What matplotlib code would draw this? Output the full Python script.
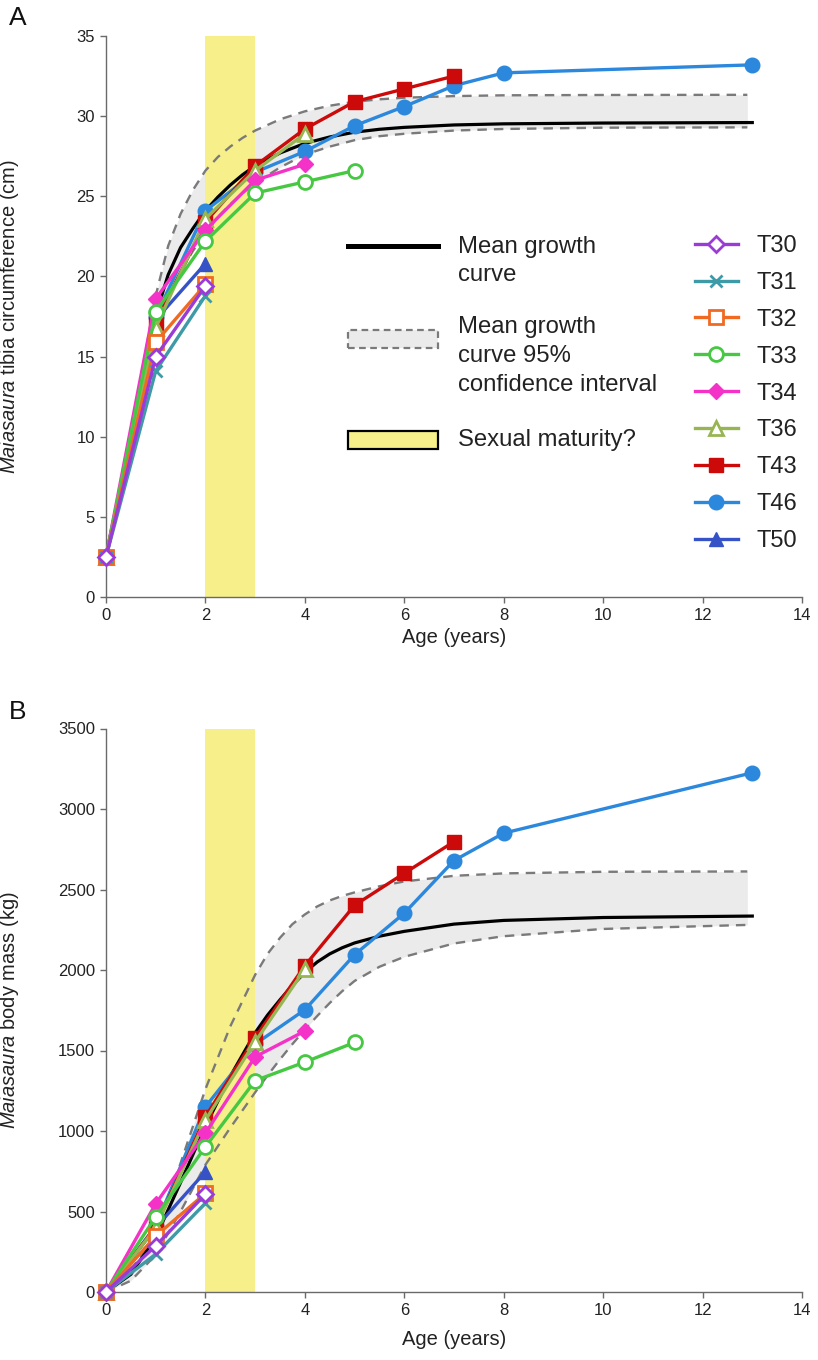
import matplotlib
matplotlib.use('Agg')
import matplotlib.pyplot as plt
from matplotlib.lines import Line2D
from matplotlib.patches import Rectangle

plt.rcParams['font.family'] = ['Liberation Sans', 'DejaVu Sans']
plt.rcParams['mathtext.fontset'] = 'custom'
plt.rcParams['mathtext.it'] = 'Liberation Sans:italic'
plt.rcParams['mathtext.rm'] = 'Liberation Sans'

# ---------------- data ----------------
names = ['T30', 'T31', 'T32', 'T33', 'T34', 'T36', 'T43', 'T46', 'T50']

ages = {
    'T30': [0, 1, 2],
    'T31': [0, 1, 2],
    'T32': [0, 1, 2],
    'T33': [0, 1, 2, 3, 4, 5],
    'T34': [0, 1, 2, 3, 4],
    'T36': [0, 1, 2, 3, 4],
    'T43': [0, 1, 2, 3, 4, 5, 6, 7],
    'T46': [0, 1, 2, 3, 4, 5, 6, 7, 8, 13],
    'T50': [0, 1, 2],
}

tibia = {
    'T30': [2.5, 15.0, 19.4],
    'T31': [2.5, 14.1, 18.8],
    'T32': [2.5, 15.9, 19.5],
    'T33': [2.5, 17.8, 22.2, 25.2, 25.9, 26.6],
    'T34': [2.5, 18.6, 22.9, 26.0, 27.0],
    'T36': [2.5, 16.8, 23.6, 26.6, 28.9],
    'T43': [2.5, 17.1, 23.4, 26.9, 29.2, 30.9, 31.7, 32.5],
    'T46': [2.5, 17.5, 24.1, 26.5, 27.8, 29.4, 30.6, 31.9, 32.7, 33.2],
    'T50': [2.5, 17.3, 20.8],
}

mass = {
    'T30': [0, 287, 607],
    'T31': [0, 235, 552],
    'T32': [0, 348, 612],
    'T33': [0, 467, 902, 1313, 1428, 1550],
    'T34': [0, 548, 987, 1461, 1621],
    'T36': [0, 400, 1068, 1554, 2005],
    'T43': [0, 405, 1088, 1580, 2027, 2402, 2601, 2797],
    'T46': [0, 410, 1150, 1540, 1753, 2095, 2353, 2680, 2850, 3225],
    'T50': [0, 400, 747],
}

# mean growth curve and its 95% confidence interval
mean_age_A = [0, 0.25, 0.5, 0.75, 1, 1.25, 1.5, 1.75, 2, 2.25, 2.5, 2.75, 3, 3.5, 4, 4.5, 5,
              5.5, 6, 7, 8, 10, 13]
mean_A = [2.5, 5.8, 9.8, 13.9, 17.6, 20.1, 21.8, 23.0, 24.1, 24.95, 25.7, 26.35, 26.9, 27.7,
          28.3, 28.7, 29.0, 29.18, 29.3, 29.45, 29.52, 29.57, 29.6]
ci_age_A = [0, 0.25, 0.5, 0.75, 1, 1.25, 1.5, 1.75, 2, 2.25, 2.5, 2.75, 3, 3.5, 4, 4.5, 5,
            5.5, 6, 7, 8, 10, 12.9]
upper_A = [2.5, 6.4, 10.4, 14.5, 18.8, 21.9, 23.9, 25.4, 26.6, 27.45, 28.1, 28.65, 29.1, 29.8,
           30.3, 30.65, 30.9, 31.05, 31.15, 31.25, 31.3, 31.32, 31.33]
lower_A = [2.5, 5.6, 9.0, 12.6, 15.9, 18.6, 20.3, 21.6, 22.7, 23.7, 24.5, 25.2, 25.8, 26.8,
           27.6, 28.1, 28.5, 28.75, 28.9, 29.1, 29.2, 29.28, 29.3]

mean_age_B = [0, 0.5, 1, 1.5, 2, 2.5, 3, 3.25, 3.5, 3.75, 4, 4.25, 4.5, 4.75, 5, 5.5, 6, 7, 8,
              10, 13]
mean_B = [0, 110, 340, 680, 1030, 1340, 1610, 1720, 1815, 1905, 1985, 2050, 2100, 2138, 2168,
          2210, 2240, 2285, 2308, 2326, 2335]
ci_age_B = [0, 0.5, 1, 1.5, 2, 2.5, 3, 3.25, 3.5, 3.75, 4, 4.25, 4.5, 4.75, 5, 5.5, 6, 7, 8,
            10, 12.9]
upper_B = [0, 130, 380, 800, 1260, 1650, 1970, 2100, 2200, 2285, 2345, 2395, 2432, 2460, 2482,
           2520, 2550, 2585, 2600, 2610, 2612]
lower_B = [0, 70, 230, 500, 790, 1020, 1240, 1345, 1445, 1540, 1630, 1715, 1795, 1868, 1932,
           2020, 2082, 2165, 2210, 2255, 2280]

maturity = (2, 3)

x_ticks = [0, 2, 4, 6, 8, 10, 12, 14]
yticks_A = [0, 5, 10, 15, 20, 25, 30, 35]
yticks_B = [0, 500, 1000, 1500, 2000, 2500, 3000, 3500]

# ---------------- styles ----------------
styles = {
    'T30': dict(color='#9b3bd6', marker='D', ms=8, mfc='white', mew=2.0),
    'T31': dict(color='#3e9aa6', marker='x', ms=9, mew=2.0),
    'T32': dict(color='#f06a22', marker='s', ms=9.5, mfc='white', mew=2.0),
    'T33': dict(color='#46c843', marker='o', ms=10, mfc='white', mew=2.0),
    'T34': dict(color='#f532c8', marker='D', ms=8, mew=1.0),
    'T36': dict(color='#97b653', marker='^', ms=10, mfc='white', mew=2.0),
    'T43': dict(color='#cc0a0a', marker='s', ms=10, mew=1.0),
    'T46': dict(color='#2c88dc', marker='o', ms=10.5, mew=1.0),
    'T50': dict(color='#3553c6', marker='^', ms=10.5, mew=1.0),
}

W, H = 818, 1360
fig = plt.figure(figsize=(W / 100, H / 100), dpi=100)


def ax_rect(l, t, r, b):
    return [l / W, 1 - b / H, (r - l) / W, (b - t) / H]


def fxy(x, y):
    return x / W, 1 - y / H


axA = fig.add_axes(ax_rect(106, 36, 802, 597))
axB = fig.add_axes(ax_rect(106, 728.5, 802, 1292))

YELLOW = '#f7f08a'
BAND = '#ebebeb'
DASH = '#7a7a7a'

panels = [
    (axA, tibia, mean_age_A, mean_A, ci_age_A, upper_A, lower_A, (0, 35), yticks_A,
     r'$\it{Maiasaura}$ tibia circumference (cm)', -0.055),
    (axB, mass, mean_age_B, mean_B, ci_age_B, upper_B, lower_B, (0, 3500), yticks_B,
     r'$\it{Maiasaura}$ body mass (kg)', -0.068),
]

series_lines = {}
for ax, vals, mage, mval, cage, up, lo, ylim, yt, ylab, xlab_y in panels:
    ax.fill_between(cage, lo, up, color=BAND, lw=0, zorder=1)
    ax.axvspan(maturity[0], maturity[1], color=YELLOW, lw=0, zorder=2)
    ax.plot(cage, up, color=DASH, lw=1.7, ls=(0, (4, 3)), zorder=3)
    ax.plot(cage, lo, color=DASH, lw=1.7, ls=(0, (4, 3)), zorder=3)
    ax.plot(mage, mval, color='black', lw=2.3, zorder=4)
    for i, n in enumerate(reversed(names)):
        st = styles[n]
        ln, = ax.plot(ages[n], vals[n], color=st['color'], lw=2.4, marker=st['marker'],
                      ms=st['ms'], mfc=st.get('mfc', st['color']), mec=st['color'],
                      mew=st['mew'], zorder=5 + i, clip_on=False, label=n)
        if ax is axA:
            series_lines[n] = ln
    ax.set_xlim(0, 14)
    ax.set_ylim(*ylim)
    ax.set_xticks(x_ticks)
    ax.set_yticks(yt)
    for s in ['top', 'right']:
        ax.spines[s].set_visible(False)
    for s in ['left', 'bottom']:
        ax.spines[s].set_color('#6a6a6a')
        ax.spines[s].set_linewidth(1.0)
    ax.tick_params(direction='out', length=4, width=1, color='#6a6a6a',
                   labelsize=12, labelcolor='#222222', pad=4)
    ax.set_xlabel('Age (years)', fontsize=14.5, color='#222222')
    ax.xaxis.set_label_coords(0.5, xlab_y)
    ax.set_ylabel(ylab, fontsize=14.5, color='#222222')
    ax.yaxis.set_label_coords(-0.122, 0.5)

# series legend (right)
leg = axA.legend(handles=[series_lines[n] for n in names], loc='upper left',
                 bbox_to_anchor=fxy(695, 235), bbox_transform=fig.transFigure,
                 frameon=False, borderpad=0, borderaxespad=0, handlelength=1.8,
                 handletextpad=0.8, labelspacing=0.63, fontsize=17, numpoints=1)
for t in leg.get_texts():
    t.set_color('#222222')

# key legend (left), drawn in figure pixels
fig.add_artist(Line2D([348 / W, 438 / W], [1 - 246 / H, 1 - 246 / H], color='black', lw=3.6))
fig.add_artist(Rectangle(fxy(348, 348), 90 / W, 18 / H, transform=fig.transFigure,
                         facecolor=BAND, edgecolor=DASH, lw=1.6, ls=(0, (3, 2))))
fig.add_artist(Rectangle(fxy(348, 449), 90 / W, 18 / H, transform=fig.transFigure,
                         facecolor=YELLOW, edgecolor='black', lw=1.6))
key_lines = [('Mean growth', 247), ('curve', 275), ('Mean growth', 327), ('curve 95%', 356),
             ('confidence interval', 385), ('Sexual maturity?', 440)]
for txt, y in key_lines:
    fig.text(458 / W, 1 - y / H, txt, fontsize=17.2, va='center', ha='left', color='#222222')

fig.text(*fxy(18, 18), 'A', fontsize=19, va='center', ha='center', color='#111111')
fig.text(*fxy(18, 712), 'B', fontsize=19, va='center', ha='center', color='#111111')

fig.savefig('out.png', dpi=100)
